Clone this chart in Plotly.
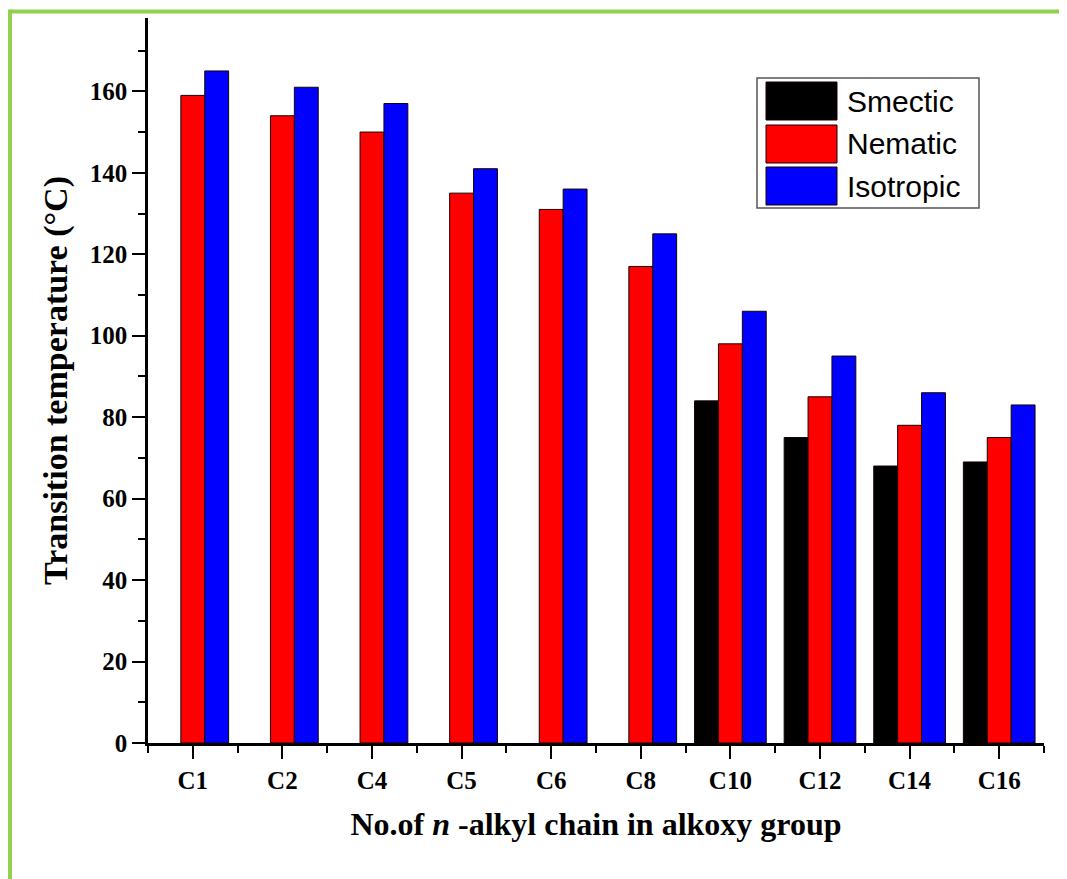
import plotly.graph_objects as go

categories = ["C1", "C2", "C4", "C5", "C6", "C8", "C10", "C12", "C14", "C16"]
smectic = [None, None, None, None, None, None, 84, 75, 68, 69]
nematic = [159, 154, 150, 135, 131, 117, 98, 85, 78, 75]
isotropic = [165, 161, 157, 141, 136, 125, 106, 95, 86, 83]
series_names = ["Smectic", "Nematic", "Isotropic"]
series_colors = ["#000000", "#ff0000", "#0000ff"]
y_tick_vals = [0, 20, 40, 60, 80, 100, 120, 140, 160]

W, H = 1067, 879
OFF = 8  # page body margin
ML, MR, MT, MB = 140, 31, 10, 144
PW, PH = W - ML - MR, H - MT - MB
X0, Y0 = ML + OFF, H - MB + OFF  # page coords of plot origin

def px(x):
    return (x - X0) / PW

def py(y):
    return (Y0 - y) / PH

xpos = list(range(len(categories)))
fig = go.Figure()
for name, vals, col in zip(series_names, [smectic, nematic, isotropic], series_colors):
    fig.add_trace(go.Bar(
        x=xpos, y=vals, name=name,
        marker=dict(color=col, line=dict(color="#1a0000", width=1)),
        showlegend=False,
    ))

serif = "Liberation Serif"
fig.update_layout(
    width=W, height=H,
    margin=dict(l=ML, r=MR, t=MT, b=MB),
    paper_bgcolor="white", plot_bgcolor="white",
    barmode="group", bargap=0.2, bargroupgap=0,
    font=dict(family=serif, color="black"),
)
fig.update_xaxes(
    range=[-0.5, len(categories) - 0.5],
    tickmode="array", tickvals=xpos, ticktext=categories,
    ticks="outside", ticklen=13, tickwidth=2, tickcolor="black",
    showline=True, linecolor="black", linewidth=2.5,
    showgrid=False, zeroline=False,
    tickfont=dict(family=serif, size=25, color="black", weight="bold"),
    minor=dict(tickmode="array", tickvals=[i - 0.5 for i in range(len(categories) + 1)],
               ticks="outside", ticklen=7, tickwidth=2, tickcolor="black", showgrid=False),
    title=dict(text="No.of <i>n</i> -alkyl chain in alkoxy group",
               font=dict(family=serif, size=32, color="black", weight="bold"), standoff=20),
)
fig.update_yaxes(
    range=[0, 178],
    tickmode="array", tickvals=y_tick_vals,
    ticks="outside", ticklen=13, tickwidth=2, tickcolor="black",
    showline=True, linecolor="black", linewidth=2.5,
    showgrid=False, zeroline=False,
    tickfont=dict(family=serif, size=25, color="black", weight="bold"),
    minor=dict(dtick=10, tick0=0, ticks="outside", ticklen=7, tickwidth=2,
               tickcolor="black", showgrid=False),
    title=dict(text="Transition temperature (°C)",
               font=dict(family=serif, size=34, color="black", weight="bold"), standoff=12),
)

shapes = []
# green frame (top and left)
shapes.append(dict(type="line", xref="paper", yref="paper", x0=px(10), x1=px(1080),
                   y0=py(11.5), y1=py(11.5), line=dict(color="#92d050", width=4), layer="above"))
shapes.append(dict(type="line", xref="paper", yref="paper", x0=px(10), x1=px(10),
                   y0=py(9.5), y1=py(890), line=dict(color="#92d050", width=4), layer="above"))
# custom legend
shapes.append(dict(type="rect", xref="paper", yref="paper", x0=px(757), x1=px(979),
                   y0=py(78), y1=py(208), line=dict(color="#555555", width=1.5),
                   fillcolor="white", layer="above"))
sw_tops = [82, 125, 167]
for name, col, top in zip(series_names, series_colors, sw_tops):
    shapes.append(dict(type="rect", xref="paper", yref="paper", x0=px(766), x1=px(837),
                       y0=py(top), y1=py(top + 38), fillcolor=col,
                       line=dict(color="#1a0000", width=1), layer="above"))
    fig.add_annotation(xref="paper", yref="paper", x=px(845), y=py(top + 19),
                       text=name, showarrow=False, xanchor="left", yanchor="middle",
                       font=dict(family="Liberation Sans", size=30, color="black"))
fig.update_layout(shapes=shapes)

fig.write_html("out.html")
